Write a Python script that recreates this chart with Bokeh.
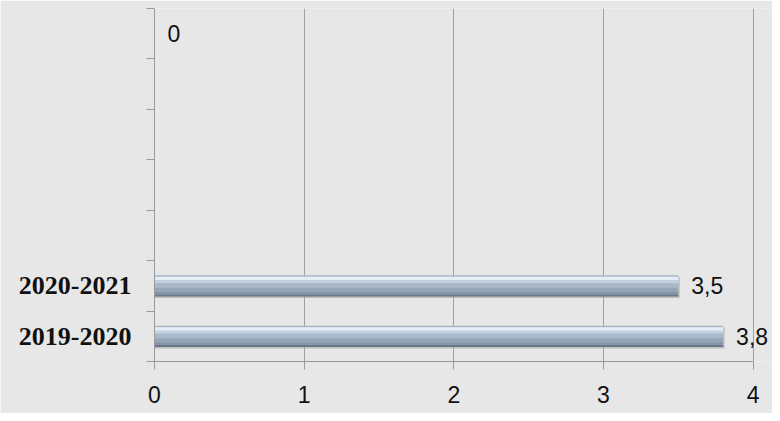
import numpy as np
from bokeh.plotting import figure
from bokeh.models import ColumnDataSource, FixedTicker, LabelSet, Range1d
from bokeh.core.properties import value
from bokeh.embed import file_html
from bokeh.resources import INLINE

# ---- data ----
categories = ["2019-2020", "2020-2021", "", "", "", "", ""]
values = [3.8, 3.5, np.nan, np.nan, np.nan, np.nan, 0.0]
x_ticks = [0, 1, 2, 3, 4]


def fmt(v):
    if np.isnan(v):
        return ""
    if float(v).is_integer():
        return str(int(v))
    return f"{v:.1f}".replace(".", ",")


n = len(categories)
ypos = [i + 0.5 for i in range(n)]
bar_vals = [0.0 if np.isnan(v) else v for v in values]
labels = [fmt(v) for v in values]
label_x = [0.0 if np.isnan(v) else v for v in values]

src = ColumnDataSource(dict(y=ypos, v=bar_vals, lx=label_x, lab=labels))

BG = "#e7e7e7"
p = figure(width=772, height=413, output_backend="svg", toolbar_location=None,
           x_range=Range1d(0, 4.13), y_range=Range1d(0, n),
           min_border_left=154, min_border_right=0, min_border_top=8, min_border_bottom=52)
p.background_fill_color = BG
p.border_fill_color = BG
p.outline_line_color = None

# bars as layered strips to imitate the glossy gradient
H = 0.42
strips = [  # (top offset, bottom offset, color) relative to bar centre
    (0.21, 0.18, "#a4b3c6"),
    (0.18, 0.11, "#e4eef9"),
    (0.11, 0.05, "#c3d0e0"),
    (0.05, -0.04, "#a9b8ca"),
    (-0.04, -0.12, "#95a5b8"),
    (-0.12, -0.17, "#8494a7"),
    (-0.17, -0.21, "#6a788b"),
]
# shadow
sh = ColumnDataSource(dict(y=[y - 0.03 for y in ypos], v=[b + 0.01 if b > 0 else 0 for b in bar_vals]))
p.hbar(y="y", right="v", left=0, height=H, source=sh, fill_color="#9c9c9c", fill_alpha=0.55, line_color=None)
for top, bot, col in strips:
    s = ColumnDataSource(dict(y=[y + (top + bot) / 2 for y in ypos], v=bar_vals))
    p.hbar(y="y", right="v", left=0, height=top - bot, source=s, fill_color=col, line_color=None)

# axes
p.xaxis.ticker = FixedTicker(ticks=x_ticks)
p.xaxis.bounds = (0, 4)
p.xaxis.axis_line_color = "#9a9a9a"
p.xaxis.major_tick_line_color = "#9a9a9a"
p.xaxis.major_tick_out = 8
p.xaxis.major_tick_in = 0
p.xaxis.minor_tick_line_color = None
p.xaxis.major_label_standoff = 16
p.xaxis.major_label_text_font = "Liberation Sans"
p.xaxis.major_label_text_font_size = "23px"
p.xaxis.major_label_text_color = "#111111"

p.yaxis.ticker = FixedTicker(ticks=ypos, minor_ticks=list(range(n + 1)))
p.yaxis.major_label_overrides = {y: c for y, c in zip(ypos, categories)}
p.yaxis.axis_line_color = "#9a9a9a"
p.yaxis.major_tick_line_color = None
p.yaxis.minor_tick_line_color = "#9a9a9a"
p.yaxis.minor_tick_out = 8
p.yaxis.minor_tick_in = 0
p.yaxis.major_label_standoff = 15
p.yaxis.major_label_text_font = "Liberation Serif"
p.yaxis.major_label_text_font_style = "bold"
p.yaxis.major_label_text_font_size = "26px"
p.yaxis.major_label_text_color = "#111111"

p.ygrid.grid_line_color = None
p.xgrid.ticker = FixedTicker(ticks=x_ticks)
p.xgrid.grid_line_color = "#a0a0a0"
p.xgrid.grid_line_width = 1

lbl = LabelSet(x="lx", y="y", text="lab", source=src, x_offset=13, y_offset=0,
               text_font=value("Liberation Sans"), text_font_size=value("23px"),
               text_color="#111111", text_baseline="middle", text_align="left")
p.add_layout(lbl)

open("out.html", "w").write(file_html(p, INLINE))
